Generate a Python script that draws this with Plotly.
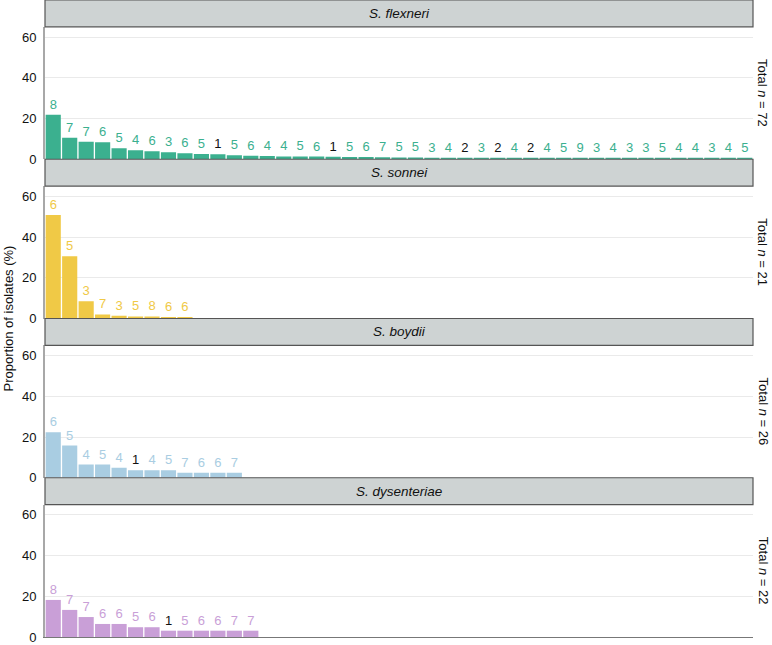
import plotly.graph_objects as go

# ---- data ----
species = ["S. flexneri", "S. sonnei", "S. boydii", "S. dysenteriae"]
totals = [72, 21, 26, 22]

flexneri_vals = [21.8, 10.6, 8.6, 8.3, 5.4, 4.4, 3.9, 3.4, 2.9, 2.6, 2.4, 2.0, 1.7, 1.6, 1.4,
                 1.4, 1.3, 1.2, 1.1, 1.1, 1.0, 0.9, 0.9, 0.7, 0.7, 0.6, 0.6, 0.5, 0.5, 0.5,
                 0.4, 0.4, 0.4, 0.3, 0.3, 0.3, 0.3, 0.2, 0.2, 0.2, 0.2, 0.2, 0.2]
flexneri_labels = [8, 7, 7, 6, 5, 4, 6, 3, 6, 5, 1, 5, 6, 4, 4, 5, 6, 1, 5, 6, 7, 5, 5, 3, 4,
                   2, 3, 2, 4, 2, 4, 5, 9, 3, 4, 3, 3, 5, 4, 4, 3, 4, 5]

sonnei_vals = [50.8, 30.6, 8.5, 2.0, 1.3, 1.0, 1.0, 0.5, 0.5]
sonnei_labels = [6, 5, 3, 7, 3, 5, 8, 6, 6]

boydii_vals = [22.4, 15.8, 6.5, 6.5, 4.9, 3.7, 3.7, 3.7, 2.4, 2.4, 2.4, 2.4]
boydii_labels = [6, 5, 4, 5, 4, 1, 4, 5, 7, 6, 6, 7]

dysenteriae_vals = [18.2, 13.3, 9.8, 6.4, 6.4, 4.8, 4.8, 3.1, 3.1, 3.1, 3.1, 3.1, 3.1]
dysenteriae_labels = [8, 7, 7, 6, 6, 5, 6, 1, 5, 6, 6, 7, 7]

colors = ["#3BB08F", "#F0C946", "#A9CDE2", "#C99FD7"]
y_ticks = [0, 20, 40, 60]

all_vals = [flexneri_vals, sonnei_vals, boydii_vals, dysenteriae_vals]
all_labels = [flexneri_labels, sonnei_labels, boydii_labels, dysenteriae_labels]
n_cat = len(flexneri_vals)

# ---- layout geometry ----
W, H = 772, 645
ml, mr, mt, mb = 45, 19, 0, 5
plot_h = H - mt - mb          # 640
panel = 0.25
strip = 27 / plot_h

fig = go.Figure()
shapes, annots = [], []
font = "Liberation Sans, Arial, sans-serif"

for i in range(4):
    ax = "" if i == 0 else str(i + 1)
    vals, labs = all_vals[i], all_labels[i]
    top = 1 - i * panel
    bot = top - panel
    tcolors = ["#111111" if l <= 2 else colors[i] for l in labs]
    fig.add_trace(go.Bar(
        x=list(range(1, len(vals) + 1)), y=vals,
        text=[str(l) for l in labs], textposition="outside",
        textfont=dict(color=tcolors, size=13, family=font),
        marker=dict(color=colors[i], line=dict(width=0)),
        cliponaxis=False, showlegend=False,
        xaxis="x", yaxis="y" + ax,
    ))
    fig.layout["yaxis" + ax] = dict(
        domain=[bot, top - strip], range=[0, 65], anchor="x",
        tickvals=y_ticks, ticks="", showgrid=True, gridcolor="#EAEAEA", gridwidth=1,
        zeroline=False, showline=True, linecolor="#A8A8A8", linewidth=2,
        tickfont=dict(size=13, color="#111111", family=font), ticklabelstandoff=4,
    )
    shapes.append(dict(type="rect", xref="paper", yref="paper",
                       x0=0, x1=1, y0=top - strip, y1=top,
                       fillcolor="#CED3D3", line=dict(color="#555555", width=1.2), layer="above"))
    annots.append(dict(text="<i>%s</i>" % species[i], xref="paper", yref="paper",
                       x=0.5, y=top - strip / 2, showarrow=False,
                       xanchor="center", yanchor="middle",
                       font=dict(size=13.5, color="#111111", family=font)))
    annots.append(dict(text="Total <i>n</i> = %d" % totals[i], xref="paper", yref="paper",
                       x=1 + 10 / (W - ml - mr), y=(bot + top - strip) / 2, textangle=90,
                       showarrow=False, xanchor="center", yanchor="middle",
                       font=dict(size=13, color="#111111", family=font)))

annots.append(dict(text="Proportion of isolates (%)", xref="paper", yref="paper",
                   x=-(37) / (W - ml - mr), y=0.5, textangle=-90, showarrow=False,
                   xanchor="center", yanchor="middle",
                   font=dict(size=13, color="#111111", family=font)))

fig.update_layout(
    width=W, height=H, margin=dict(l=ml, r=mr, t=mt, b=mb),
    paper_bgcolor="white", plot_bgcolor="white",
    barmode="overlay", bargap=0.08,
    xaxis=dict(range=[0.5, n_cat + 0.5], anchor="y4", showticklabels=False, ticks="",
               showgrid=False, zeroline=False, showline=True, linecolor="#777777", linewidth=1.2),
    shapes=shapes, annotations=annots,
)

fig.write_html("out.html", config={"displayModeBar": False},
               post_script="document.body.style.margin='0px';")
